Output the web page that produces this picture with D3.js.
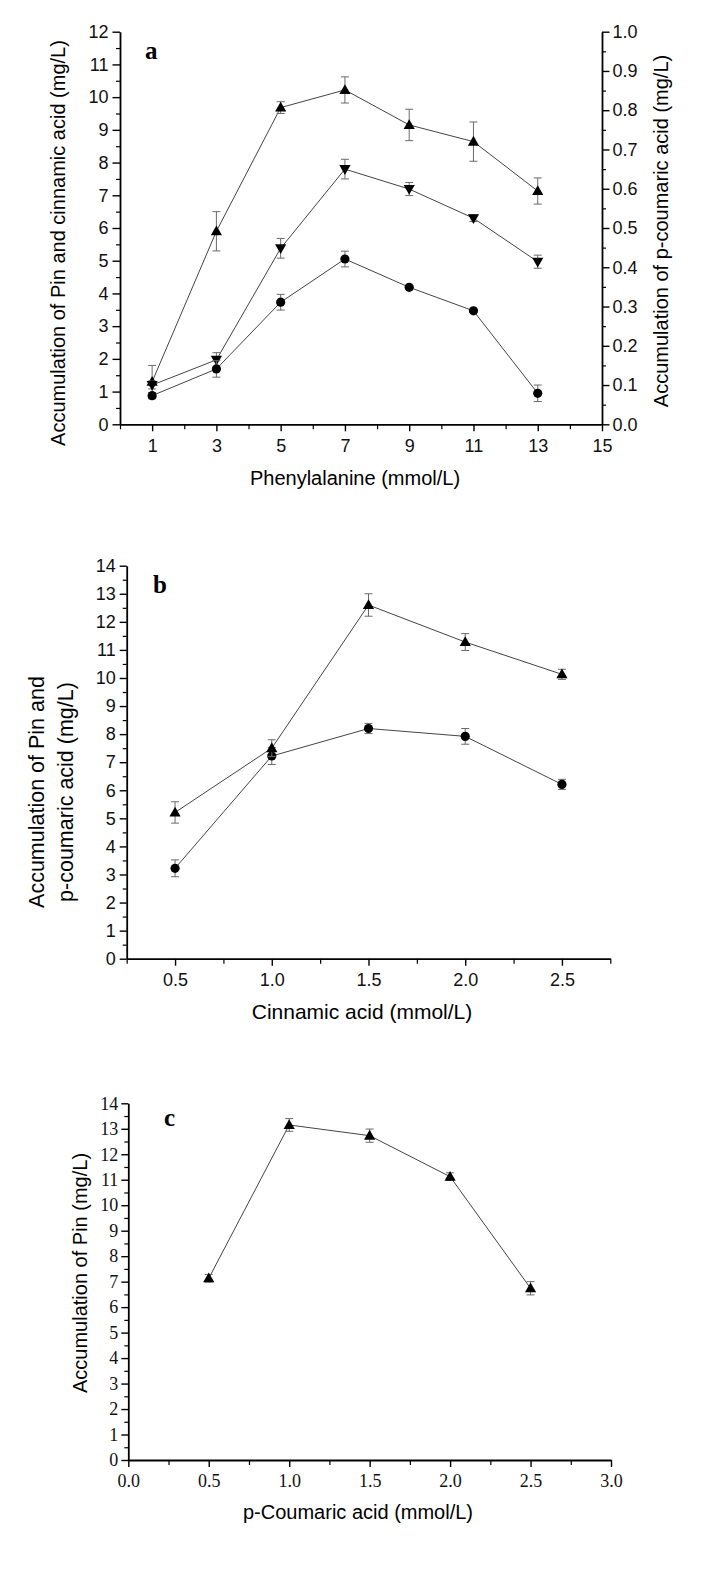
<!DOCTYPE html>
<html><head><meta charset="utf-8">
<script src="https://cdn.jsdelivr.net/npm/d3@7"></script>
<style>
html,body{margin:0;padding:0;background:#fff;}
svg{display:block;}
</style></head>
<body>
<svg id="c" width="708" height="1595"></svg>
<script>
// ---------- DATA ----------
// Panel a
const aX = [1, 3, 5, 7, 9, 11, 13];
const aPin = [1.30, 5.90, 9.68, 10.22, 9.15, 8.64, 7.13];          // triangles up, left axis
const aPinErr = [0.50, 0.60, 0.18, 0.40, 0.48, 0.60, 0.40];
const aCin = [1.20, 1.97, 5.38, 7.80, 7.19, 6.30, 4.97];           // triangles down, left axis
const aCinErr = [0.12, 0.22, 0.30, 0.30, 0.20, 0.10, 0.20];
const aCou = [0.073, 0.141, 0.311, 0.421, 0.349, 0.289, 0.079];    // circles, right axis
const aCouErr = [0.008, 0.021, 0.020, 0.020, 0.004, 0.004, 0.021];
const aXTicks = [1, 3, 5, 7, 9, 11, 13, 15];
const aYTicks = [0,1,2,3,4,5,6,7,8,9,10,11,12];
const aY2Ticks = [0,0.1,0.2,0.3,0.4,0.5,0.6,0.7,0.8,0.9,1.0];
// Panel b
const bX = [0.5, 1.0, 1.5, 2.0, 2.5];
const bPin = [5.21, 7.50, 12.60, 11.28, 10.13];                    // triangles
const bPinErr = [0.38, 0.30, 0.40, 0.30, 0.18];
const bCou = [3.22, 7.22, 8.20, 7.92, 6.21];                       // circles
const bCouErr = [0.30, 0.30, 0.18, 0.28, 0.18];
const bXTicks = [0.5, 1.0, 1.5, 2.0, 2.5];
const bYTicks = [0,1,2,3,4,5,6,7,8,9,10,11,12,13,14];
// Panel c
const cX = [0.5, 1.0, 1.5, 2.0, 2.5];
const cPin = [7.13, 13.15, 12.73, 11.12, 6.74];
const cPinErr = [0.15, 0.25, 0.26, 0.15, 0.26];
const cXTicks = [0.0, 0.5, 1.0, 1.5, 2.0, 2.5, 3.0];
const cYTicks = [0,1,2,3,4,5,6,7,8,9,10,11,12,13,14];

// ---------- DRAW ----------
const svg = d3.select("#c");
const SANS = "'Liberation Sans', Arial, sans-serif";
const SERIF = "'Liberation Serif', 'Times New Roman', serif";
const LINE = "#444";
const ERR = "#6a6a6a";

const triUp = "M0,-5.8L5.6,4L-5.6,4Z";
const triDown = "M-5.6,-4L5.6,-4L0,5.8Z";

function styleAxis(g, font, size) {
  g.select(".domain").attr("stroke", "#000").attr("stroke-width", 1.8);
  g.selectAll(".tick line").attr("stroke", "#000").attr("stroke-width", 1.4);
  g.selectAll("text").attr("font-family", font).attr("font-size", size).attr("fill", "#111");
}
function minorAxis(g, axis) {
  g.call(axis);
  g.select(".domain").remove();
  g.selectAll("text").remove();
  g.selectAll(".tick line").attr("stroke", "#000").attr("stroke-width", 1.2);
}
function range(a, b, s) { const r = []; for (let v = a; v <= b + 1e-9; v += s) r.push(+v.toFixed(4)); return r; }

function series(g, xs, ys, es, x, y, shape) {
  const pts = xs.map((v, i) => ({x: v, y: ys[i], e: es[i]}));
  g.append("path").datum(pts)
    .attr("fill", "none").attr("stroke", LINE).attr("stroke-width", 1)
    .attr("d", d3.line().x(d => x(d.x)).y(d => y(d.y)));
  const eb = g.append("g").attr("stroke", ERR).attr("stroke-width", 1).attr("fill", "none");
  pts.forEach(d => {
    const cx = x(d.x), t = y(d.y + d.e), b = y(d.y - d.e);
    eb.append("line").attr("x1", cx).attr("x2", cx).attr("y1", t).attr("y2", b);
    eb.append("line").attr("x1", cx - 4).attr("x2", cx + 4).attr("y1", t).attr("y2", t);
    eb.append("line").attr("x1", cx - 4).attr("x2", cx + 4).attr("y1", b).attr("y2", b);
  });
  const m = g.append("g");
  pts.forEach(d => {
    if (shape === "circle") {
      m.append("circle").attr("cx", x(d.x)).attr("cy", y(d.y)).attr("r", 4.6).attr("fill", "#000");
    } else {
      m.append("path").attr("d", shape === "up" ? triUp : triDown)
        .attr("transform", `translate(${x(d.x)},${y(d.y)})`).attr("fill", "#000");
    }
  });
}

// ----- Panel a -----
{
  const L = 120, R = 602, T = 31.7, B = 424.3;
  const x = d3.scaleLinear().domain([0, 15]).range([L, R]);
  const y = d3.scaleLinear().domain([0, 12]).range([B, T]);
  const y2 = d3.scaleLinear().domain([0, 1]).range([B, T]);
  const g = svg.append("g");
  minorAxis(g.append("g").attr("transform", `translate(0,${B})`),
    d3.axisBottom(x).tickValues(range(0, 14, 2)).tickSize(5).tickSizeOuter(0));
  minorAxis(g.append("g").attr("transform", `translate(${L},0)`),
    d3.axisLeft(y).tickValues(range(0.5, 11.5, 1)).tickSize(4).tickSizeOuter(0));
  minorAxis(g.append("g").attr("transform", `translate(${R},0)`),
    d3.axisRight(y2).tickValues(range(0.05, 0.95, 0.1)).tickSize(4).tickSizeOuter(0));
  const gx = g.append("g").attr("transform", `translate(0,${B})`)
    .call(d3.axisBottom(x).tickValues(aXTicks).tickSize(7).tickSizeOuter(0).tickPadding(8).tickFormat(d3.format("d")));
  styleAxis(gx, SANS, 18);
  const gy = g.append("g").attr("transform", `translate(${L},0)`)
    .call(d3.axisLeft(y).tickValues(aYTicks).tickSize(7.5).tickSizeOuter(0).tickPadding(4).tickFormat(d3.format("d")));
  styleAxis(gy, SANS, 18);
  const gy2 = g.append("g").attr("transform", `translate(${R},0)`)
    .call(d3.axisRight(y2).tickValues(aY2Ticks).tickSize(7.5).tickSizeOuter(0).tickPadding(3).tickFormat(d3.format(".1f")));
  styleAxis(gy2, SANS, 18);

  series(g, aX, aPin, aPinErr, x, y, "up");
  series(g, aX, aCin, aCinErr, x, y, "down");
  series(g, aX, aCou, aCouErr, x, y2, "circle");

  g.append("text").attr("x", 145).attr("y", 59).text("a")
    .attr("font-family", SERIF).attr("font-weight", "bold").attr("font-size", 25);
  g.append("text").attr("x", 355).attr("y", 485).attr("text-anchor", "middle")
    .attr("font-family", SANS).attr("font-size", 20).text("Phenylalanine (mmol/L)");
  g.append("text").attr("transform", "translate(65,243) rotate(-90)").attr("text-anchor", "middle")
    .attr("font-family", SANS).attr("font-size", 20).text("Accumulation of Pin and cinnamic acid (mg/L)");
  g.append("text").attr("transform", "translate(668,231) rotate(-90)").attr("text-anchor", "middle")
    .attr("font-family", SANS).attr("font-size", 20).text("Accumulation of p-coumaric acid (mg/L)");
}

// ----- Panel b -----
{
  const L = 126.7, R = 610.3, T = 565.7, B = 958.7;
  const x = d3.scaleLinear().domain([0.25, 2.75]).range([L, R]);
  const y = d3.scaleLinear().domain([0, 14]).range([B, T]);
  const g = svg.append("g");
  minorAxis(g.append("g").attr("transform", `translate(0,${B})`),
    d3.axisBottom(x).tickValues(range(0.25, 2.75, 0.5)).tickSize(5).tickSizeOuter(0));
  minorAxis(g.append("g").attr("transform", `translate(${L},0)`),
    d3.axisLeft(y).tickValues(range(0.5, 13.5, 1)).tickSize(4).tickSizeOuter(0));
  const gx = g.append("g").attr("transform", `translate(0,${B})`)
    .call(d3.axisBottom(x).tickValues(bXTicks).tickSize(7).tickSizeOuter(0).tickPadding(8).tickFormat(d3.format(".1f")));
  styleAxis(gx, SANS, 18);
  const gy = g.append("g").attr("transform", `translate(${L},0)`)
    .call(d3.axisLeft(y).tickValues(bYTicks).tickSize(7).tickSizeOuter(0).tickPadding(4).tickFormat(d3.format("d")));
  styleAxis(gy, SANS, 18);

  series(g, bX, bCou, bCouErr, x, y, "circle");
  series(g, bX, bPin, bPinErr, x, y, "up");

  g.append("text").attr("x", 153).attr("y", 593).text("b")
    .attr("font-family", SERIF).attr("font-weight", "bold").attr("font-size", 25);
  g.append("text").attr("x", 362).attr("y", 1019).attr("text-anchor", "middle")
    .attr("font-family", SANS).attr("font-size", 21).text("Cinnamic acid (mmol/L)");
  g.append("text").attr("transform", "translate(44,792) rotate(-90)").attr("text-anchor", "middle")
    .attr("font-family", SANS).attr("font-size", 21.5).text("Accumulation of Pin and");
  g.append("text").attr("transform", "translate(73,792) rotate(-90)").attr("text-anchor", "middle")
    .attr("font-family", SANS).attr("font-size", 21.5).text("p-coumaric acid (mg/L)");
}

// ----- Panel c -----
{
  const L = 128.3, R = 611, T = 1103.3, B = 1460;
  const x = d3.scaleLinear().domain([0, 3]).range([L, R]);
  const y = d3.scaleLinear().domain([0, 14]).range([B, T]);
  const g = svg.append("g");
  minorAxis(g.append("g").attr("transform", `translate(0,${B})`),
    d3.axisBottom(x).tickValues(range(0.25, 2.75, 0.5)).tickSize(5).tickSizeOuter(0));
  minorAxis(g.append("g").attr("transform", `translate(${L},0)`),
    d3.axisLeft(y).tickValues(range(0.5, 13.5, 1)).tickSize(4).tickSizeOuter(0));
  const gx = g.append("g").attr("transform", `translate(0,${B})`)
    .call(d3.axisBottom(x).tickValues(cXTicks).tickSize(7).tickSizeOuter(0).tickPadding(7).tickFormat(d3.format(".1f")));
  styleAxis(gx, SERIF, 18);
  const gy = g.append("g").attr("transform", `translate(${L},0)`)
    .call(d3.axisLeft(y).tickValues(cYTicks).tickSize(7).tickSizeOuter(0).tickPadding(3).tickFormat(d3.format("d")));
  styleAxis(gy, SERIF, 18);

  series(g, cX, cPin, cPinErr, x, y, "up");

  g.append("text").attr("x", 164).attr("y", 1126).text("c")
    .attr("font-family", SERIF).attr("font-weight", "bold").attr("font-size", 25);
  g.append("text").attr("x", 358).attr("y", 1519).attr("text-anchor", "middle")
    .attr("font-family", SANS).attr("font-size", 20).text("p-Coumaric acid (mmol/L)");
  g.append("text").attr("transform", "translate(87,1273) rotate(-90)").attr("text-anchor", "middle")
    .attr("font-family", SANS).attr("font-size", 20).text("Accumulation of Pin (mg/L)");
}
</script>
</body></html>
